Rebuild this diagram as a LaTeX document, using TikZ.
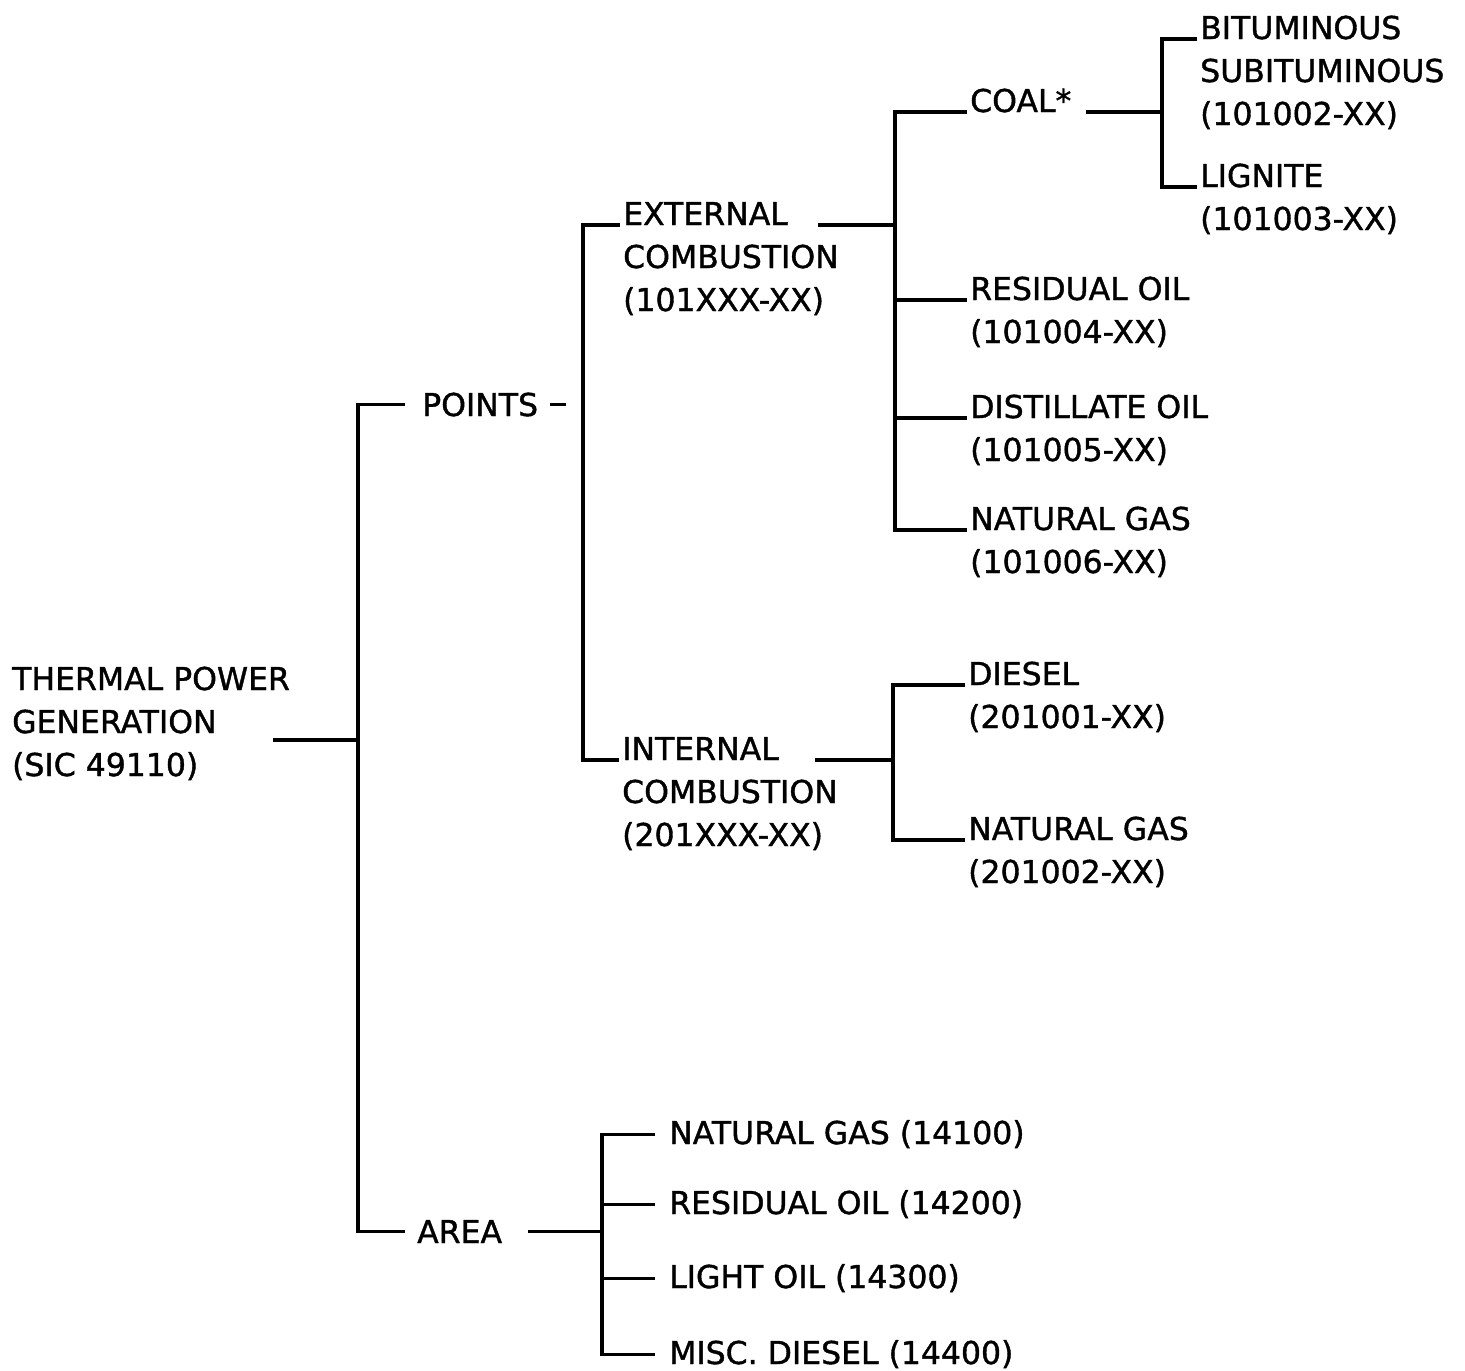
\documentclass[tikz,border=0pt]{standalone}
\usepackage{fontspec}
\setmainfont{DejaVu Sans}[FakeBold=1.2]
\newcommand{\lbl}[1]{\begin{tabular}[t]{@{}l@{}}#1\end{tabular}}
\begin{document}
\begin{tikzpicture}[x=1pt,y=-1pt,
  lab/.style={anchor=base west, inner xsep=3pt, inner ysep=0pt, font=\fontsize{31.5}{43}\selectfont},
  wire/.style={line width=3.2pt}]
\fill[white] (0,0) rectangle (1465,1371);
\useasboundingbox (0,0) rectangle (1465,1371);
% labels
\node[lab] (root) at (9,690) {\lbl{THERMAL POWER\\GENERATION\\(SIC 49110)}};
\node[lab] (points) at (419,416) {POINTS};
\node[lab] (area) at (414,1243) {AREA};
\node[lab] (ext) at (620,225) {\lbl{EXTERNAL\\COMBUSTION\\(101XXX-XX)}};
\node[lab] (int) at (619,760) {\lbl{INTERNAL\\COMBUSTION\\(201XXX-XX)}};
\node[lab] (coal) at (967,112) {COAL*};
\node[lab] (bit) at (1197,39) {\lbl{BITUMINOUS\\SUBITUMINOUS\\(101002-XX)}};
\node[lab] (lig) at (1197,187) {\lbl{LIGNITE\\(101003-XX)}};
\node[lab] (res) at (967,300) {\lbl{RESIDUAL OIL\\(101004-XX)}};
\node[lab] (dist) at (967,418) {\lbl{DISTILLATE OIL\\(101005-XX)}};
\node[lab] (ngA) at (967,530) {\lbl{NATURAL GAS\\(101006-XX)}};
\node[lab] (dies) at (965,685) {\lbl{DIESEL\\(201001-XX)}};
\node[lab] (ngB) at (965,840) {\lbl{NATURAL GAS\\(201002-XX)}};
\node[lab] (a1) at (666,1144) {NATURAL GAS (14100)};
\node[lab] (a2) at (666,1214) {RESIDUAL OIL (14200)};
\node[lab] (a3) at (666,1288) {LIGHT OIL (14300)};
\node[lab] (a4) at (666,1364) {MISC. DIESEL (14400)};
% trunk positions and free ends
\coordinate (v1) at (358,0);
\coordinate (v2) at (583,0);
\coordinate (v3) at (895,0);
\coordinate (v4) at (1162,0);
\coordinate (v5) at (893,0);
\coordinate (v6) at (602,0);
\coordinate (rootR) at (273,740);
\coordinate (extR) at (818,225);
\coordinate (intR) at (815,760);
% level 1
\draw[wire] (rootR) -- (rootR -| v1);
\draw[wire] ([xshift=-14pt]points.west) -- (points.west -| v1) -- (area.west -| v1) -- ([xshift=-9pt]area.west);
% points
\draw[wire] ([xshift=9pt]points.east) -- ([xshift=25pt]points.east);
\draw[wire] (ext.base west) -- (ext.base west -| v2) -- (int.base west -| v2) -- (int.base west);
% external
\draw[wire] (extR) -- (extR -| v3);
\draw[wire] (coal.base west) -- (coal.base west -| v3) -- (ngA.base west -| v3) -- (ngA.base west);
\draw[wire] (res.base west -| v3) -- (res.base west);
\draw[wire] (dist.base west -| v3) -- (dist.base west);
% coal
\draw[wire] ([xshift=12pt]coal.base east) -- (coal.base east -| v4);
\draw[wire] (bit.base west) -- (bit.base west -| v4) -- (lig.base west -| v4) -- (lig.base west);
% internal
\draw[wire] (intR) -- (intR -| v5);
\draw[wire] (dies.base west) -- (dies.base west -| v5) -- (ngB.base west -| v5) -- (ngB.base west);
% area
\draw[wire] ([xshift=23pt]area.east) -- (area.east -| v6);
\draw[wire] ([xshift=-11pt]a1.west) -- (a1.west -| v6) -- (a4.west -| v6) -- ([xshift=-11pt]a4.west);
\draw[wire] (a2.west -| v6) -- ([xshift=-11pt]a2.west);
\draw[wire] (a3.west -| v6) -- ([xshift=-11pt]a3.west);
\end{tikzpicture}
\end{document}
